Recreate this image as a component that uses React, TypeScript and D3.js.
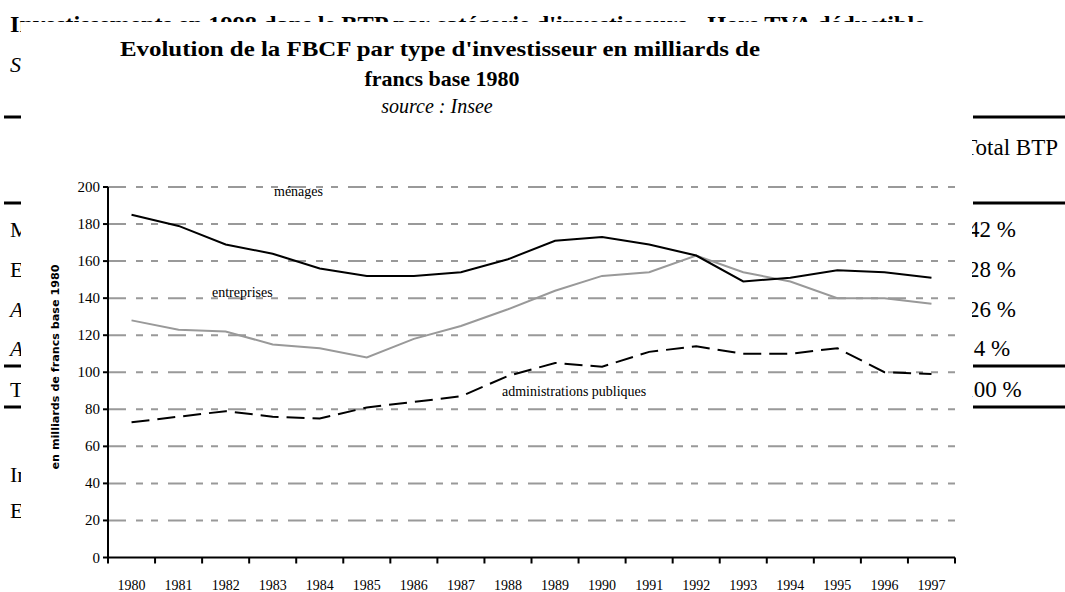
import React from "react";
import * as d3 from "d3";

const years = ["1980","1981","1982","1983","1984","1985","1986","1987","1988","1989","1990","1991","1992","1993","1994","1995","1996","1997"];
const menages = [185, 179, 169, 164, 156, 152, 152, 154, 161, 171, 173, 169, 163, 149, 151, 155, 154, 151];
const entreprises = [128, 123, 122, 115, 113, 108, 118, 125, 134, 144, 152, 154, 163, 154, 149, 140, 140, 137];
const administrations = [73, 76, 79, 76, 75, 81, 84, 87, 98, 105, 103, 111, 114, 110, 110, 113, 100, 99];
const yTicks = [0, 20, 40, 60, 80, 100, 120, 140, 160, 180, 200];
const tableRowsLeft = ["Mé", "En", "Ad", "Au", "To"];
const tableRowsRight = ["42 %", "28 %", "26 %", "4 %", "100 %"];

const W = 1065, H = 592;
const serif = "'Liberation Serif', 'Times New Roman', serif";

export default function App() {
  const x = d3.scaleBand<string>().domain(years).range([108, 955]).padding(0);
  const y = d3.scaleLinear().domain([0, 200]).range([557.5, 187]);
  const cx = (i: number) => (x(years[i]) as number) + x.bandwidth() / 2;
  const line = d3.line<number>().x((_, i) => cx(i)).y((d) => y(d));
  const boundaries = years.map((yr) => x(yr) as number).concat([955]);
  const rowY = [237, 277, 317, 356, 397];

  return (
    <svg width={W} height={H} style={{ position: "absolute", left: 0, top: 0, background: "#fff" }}>
      <defs>
        <clipPath id="outsideBox">
          <rect x={0} y={0} width={W} height={22} />
          <rect x={0} y={0} width={21} height={H} />
        </clipPath>
      </defs>
      {/* background document behind the chart, clipped by the chart box */}
      <g clipPath="url(#outsideBox)">
        <text x={10} y={32} fontFamily={serif} fontWeight="bold" fontSize={24} textLength={915} lengthAdjust="spacingAndGlyphs">
          Investissements en 1998 dans le BTP par catégorie d'investisseurs - Hors TVA déductible
        </text>
      </g>
      <svg x={0} y={40} width={21} height={H - 40} overflow="hidden">
        <g transform="translate(0,-40)">
          <text x={10} y={72} fontFamily={serif} fontStyle="italic" fontSize={22}>So</text>
          {tableRowsLeft.map((t, i) => (
            <text key={t} x={10} y={rowY[i]} fontFamily={serif} fontSize={22} fontStyle={i === 2 || i === 3 ? "italic" : "normal"}>{t}</text>
          ))}
          <text x={10} y={482} fontFamily={serif} fontSize={22}>In</text>
          <text x={10} y={518} fontFamily={serif} fontSize={22}>En</text>
        </g>
      </svg>
      <svg x={972} y={0} width={W - 972} height={H} overflow="hidden">
        <g transform="translate(-972,0)">
          {tableRowsRight.map((t, i) => (
            <text key={t} x={992} y={rowY[i]} textAnchor="middle" fontFamily={serif} fontSize={23}>{t}</text>
          ))}
          <text x={1058} y={155} textAnchor="end" fontFamily={serif} fontSize={23}>Total BTP</text>
        </g>
      </svg>
      {[117, 203, 366, 407].map((ry, i) => (
        <g key={i}>
          <line x1={4} x2={21} y1={ry} y2={ry} stroke="#000" strokeWidth={3} />
          <line x1={973} x2={1065} y1={ry} y2={ry} stroke="#000" strokeWidth={3} />
        </g>
      ))}

      {/* chart titles */}
      <text x={440} y={56} textAnchor="middle" fontFamily={serif} fontWeight="bold" fontSize={22} textLength={640} lengthAdjust="spacingAndGlyphs">
        Evolution de la FBCF par type d'investisseur en milliards de
      </text>
      <text x={442} y={86} textAnchor="middle" fontFamily={serif} fontWeight="bold" fontSize={22}>francs base 1980</text>
      <text x={437} y={113} textAnchor="middle" fontFamily={serif} fontStyle="italic" fontSize={20}>source : Insee</text>

      {/* gridlines */}
      {yTicks.filter((t) => t > 0).map((t) => (
        <line key={t} x1={108} x2={955} y1={y(t)} y2={y(t)} stroke="#999" strokeWidth={2} strokeDasharray="18 10 7 8 7 10" />
      ))}

      {/* y axis */}
      <line x1={108} x2={108} y1={y(200)} y2={y(0)} stroke="#000" strokeWidth={2} />
      {yTicks.map((t) => (
        <g key={t}>
          <line x1={103} x2={108} y1={y(t)} y2={y(t)} stroke="#000" strokeWidth={2} />
          <text x={100} y={y(t) + 5} textAnchor="end" fontFamily={serif} fontSize={15}>{t}</text>
        </g>
      ))}
      {/* x axis */}
      <line x1={108} x2={955} y1={y(0)} y2={y(0)} stroke="#000" strokeWidth={2} />
      {boundaries.map((b, i) => (
        <line key={i} x1={b} x2={b} y1={y(0)} y2={y(0) + 6} stroke="#000" strokeWidth={2} />
      ))}
      {years.map((yr, i) => (
        <text key={yr} x={cx(i)} y={590} textAnchor="middle" fontFamily={serif} fontSize={14}>{yr}</text>
      ))}

      {/* y axis title (vertical) */}
      <text transform="translate(59,367) rotate(-90)" textAnchor="middle" fontFamily="'DejaVu Sans', sans-serif" fontWeight="bold" fontSize={11} textLength={205} lengthAdjust="spacingAndGlyphs">
        en milliards de francs base 1980
      </text>

      {/* series */}
      <path d={line(entreprises) as string} fill="none" stroke="#999" strokeWidth={2} />
      <path d={line(menages) as string} fill="none" stroke="#000" strokeWidth={2} />
      <path d={line(administrations) as string} fill="none" stroke="#000" strokeWidth={2} strokeDasharray="18 8" />

      {/* series labels */}
      <text x={274} y={196} fontFamily={serif} fontSize={14}>ménages</text>
      <text x={212} y={297} fontFamily={serif} fontSize={14}>entreprises</text>
      <text x={502} y={396} fontFamily={serif} fontSize={14}>administrations publiques</text>
    </svg>
  );
}
